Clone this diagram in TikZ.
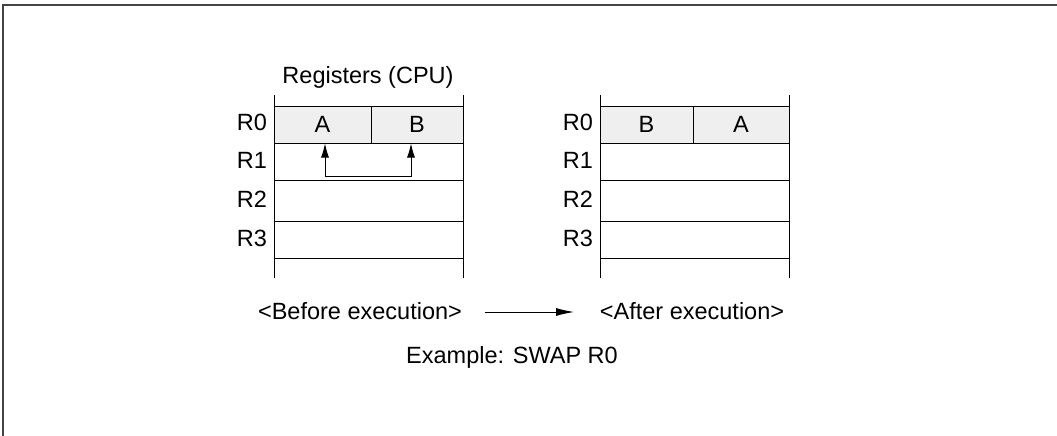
\documentclass[tikz,border=0pt]{standalone}
\usepackage{fontspec}
\setmainfont{Liberation Sans}
\usetikzlibrary{arrows.meta}
\definecolor{cellgray}{HTML}{EFEFEF}
\definecolor{framegray}{HTML}{444444}
\begin{document}
\begin{tikzpicture}[x=1pt,y=-1pt,
  lbl/.style={font=\fontsize{23.5}{27}\selectfont, inner sep=0pt, anchor=base},
  cell/.style={draw=black, line width=1pt, inner sep=0pt, font=\fontsize{23.5}{27}\selectfont},
  side/.style={draw=black, line width=1pt},
  tipboth/.style={line width=0.9pt, {Latex[length=14pt,width=8pt]}-{Latex[length=14pt,width=8pt]}},
  tipone/.style={line width=0.9pt, -{Latex[length=18pt,width=8pt]}}]
\useasboundingbox (0,0) rectangle (1057,436);
\draw[framegray, line width=2pt] (3,436) -- (3,5) -- (1057,5);
% left block
\node[lbl] (title) at (368,84) {Registers (CPU)};
\node[cell, fill=cellgray, minimum width=97pt, minimum height=37pt] (LA) at (322.5,124.5) {A};
\node[cell, fill=cellgray, minimum width=92pt, minimum height=37pt] (LB) at (417,124.5) {B};
\node[cell, minimum width=189pt, minimum height=37pt] (L1) at (368.5,161.5) {};
\node[cell, minimum width=189pt, minimum height=41pt] (L2) at (368.5,200.5) {};
\node[cell, minimum width=189pt, minimum height=37pt] (L3) at (368.5,239.5) {};
\coordinate (LTL) at (274,95); \coordinate (LBL) at (274,278);
\coordinate (LTR) at (463,95); \coordinate (LBR) at (463,278);
\draw[side] (LTL) -- (LBL);
\draw[side] (LTR) -- (LBR);
\node[lbl] (lr0) at (252,130) {R0};
\node[lbl] (lr1) at (252,168) {R1};
\node[lbl] (lr2) at (252,207) {R2};
\node[lbl] (lr3) at (252,246) {R3};
\coordinate (p1) at (325,176);
\coordinate (p2) at (411,176);
\draw[tipboth] (LA.south -| p1) -- (p1) -- (p2) -- (LB.south -| p2);
% right block
\node[cell, fill=cellgray, minimum width=93pt, minimum height=37pt] (RB) at (646.5,124.5) {B};
\node[cell, fill=cellgray, minimum width=96pt, minimum height=37pt] (RA) at (741,124.5) {A};
\node[cell, minimum width=189pt, minimum height=37pt] (R1) at (694.5,161.5) {};
\node[cell, minimum width=189pt, minimum height=41pt] (R2) at (694.5,200.5) {};
\node[cell, minimum width=189pt, minimum height=37pt] (R3) at (694.5,239.5) {};
\coordinate (RTL) at (600,95); \coordinate (RBL) at (600,278);
\coordinate (RTR) at (789,95); \coordinate (RBR) at (789,278);
\draw[side] (RTL) -- (RBL);
\draw[side] (RTR) -- (RBR);
\node[lbl] (rr0) at (578,130) {R0};
\node[lbl] (rr1) at (578,168) {R1};
\node[lbl] (rr2) at (578,207) {R2};
\node[lbl] (rr3) at (578,246) {R3};
% bottom
\node[lbl] (before) at (360,319) {<Before execution>};
\node[lbl] (after) at (692,319) {<After execution>};
\coordinate (a1) at (485,312);
\coordinate (a2) at (574,312);
\draw[tipone] (a1) -- (a2);
\node[lbl] (ex) at (512,363) {Example: SWAP R0};
\end{tikzpicture}
\end{document}
